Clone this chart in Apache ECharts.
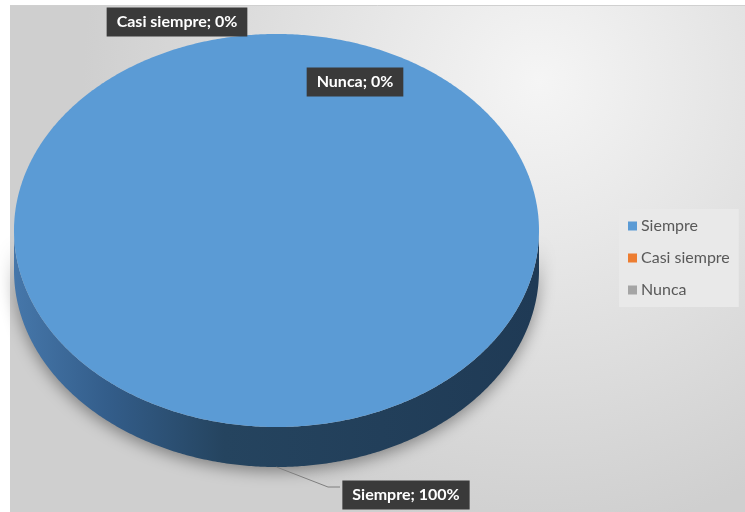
<!DOCTYPE html>
<html>
<head>
<meta charset="utf-8">
<style>
  html, body { margin: 0; padding: 0; background: #ffffff; }
  #chart { width: 745px; height: 512px; }
</style>
<script src="https://cdn.jsdelivr.net/npm/echarts@6/dist/echarts.min.js"></script>
</head>
<body>
<div id="chart"></div>
<script>
// ---- data ----
const categories = ['Siempre', 'Casi siempre', 'Nunca'];
const values = [100, 0, 0];          // percent
const colors = ['#5B9BD5', '#ED7D31', '#A5A5A5'];

// ---- layout (not data) ----
const PIE = { cx: 276.5, cy: 230.5, rx: 262.5, ry: 196.5, depth: 40 };
const LABEL_POS = [[406, 495], [177, 22], [355, 82]];
const LEADER_END = [[[328, 487], [340, 487]], null, null];

const total = values.reduce((a, b) => a + b, 0);
const starts = [];
{ let acc = 0; values.forEach(v => { starts.push(acc); acc += v; }); }

function ellPt(t, dy) {
  return [PIE.cx + PIE.rx * Math.cos(t), PIE.cy + PIE.ry * Math.sin(t) + (dy || 0)];
}
function arcPts(t0, t1, dy) {
  const n = Math.max(2, Math.ceil(Math.abs(t1 - t0) / (Math.PI / 360)));
  const pts = [];
  for (let i = 0; i <= n; i++) pts.push(ellPt(t0 + (t1 - t0) * i / n, dy));
  return pts;
}

function renderItem(params, api) {
  const i = params.dataIndex;
  const v = api.value(0);
  const a0 = -Math.PI / 2 + 2 * Math.PI * starts[i] / total;
  const a1 = a0 + 2 * Math.PI * v / total;
  const children = [];
  if (v > 0) {
    const s0 = Math.max(a0, 0), s1 = Math.min(a1, Math.PI);
    if (s1 > s0) {
      const pts = arcPts(s0, s1, 0).concat(arcPts(s1, s0, PIE.depth));
      children.push({
        type: 'polygon', z2: 1,
        shape: { points: pts },
        style: {
          fill: new echarts.graphic.LinearGradient(PIE.cx - PIE.rx, 0, PIE.cx + PIE.rx, 0, [
            { offset: 0, color: '#4677AA' },
            { offset: 0.18, color: '#335D8A' },
            { offset: 0.4, color: '#25445F' },
            { offset: 1, color: '#1F3A55' }
          ], true),
          shadowBlur: 16, shadowColor: 'rgba(0,0,0,0.4)', shadowOffsetY: 4
        }
      });
    }
    const full = (a1 - a0) >= 2 * Math.PI - 1e-9;
    const topPts = full ? arcPts(a0, a1, 0) : [[PIE.cx, PIE.cy]].concat(arcPts(a0, a1, 0));
    children.push({
      type: 'polygon', z2: 2,
      shape: { points: topPts },
      style: { fill: api.visual('color') }
    });
  }
  const pct = Math.round(v / total * 100);
  const lp = LABEL_POS[i];
  if (LEADER_END[i]) {
    const m = (a0 + a1) / 2;
    const start = ellPt(m, Math.sin(m) > 0 ? PIE.depth : 0);
    children.push({
      type: 'polyline', z2: 8,
      shape: { points: [start].concat(LEADER_END[i]) },
      style: { stroke: '#7f7f7f', lineWidth: 1, fill: null }
    });
  }
  children.push({
    type: 'text', z2: 10,
    style: {
      text: categories[i] + '; ' + pct + '%',
      x: lp[0], y: lp[1],
      align: 'center', verticalAlign: 'middle',
      fill: '#ffffff',
      font: 'bold 16px Lato, "Open Sans", sans-serif',
      backgroundColor: '#3a3a3a',
      padding: [7, 10, 6, 10],
      boxShadowBlur: 5, boxShadowColor: 'rgba(0,0,0,0.4)', boxShadowOffsetX: 1, boxShadowOffsetY: 2
    }
  });
  return { type: 'group', children: children };
}

const chart = echarts.init(document.getElementById('chart'), null, { renderer: 'canvas' });
chart.setOption({
  animation: false,
  backgroundColor: '#ffffff',
  graphic: [
    {
      type: 'rect', z: -10, silent: true,
      shape: { x: 10, y: 5, width: 735, height: 507 },
      style: {
        fill: new echarts.graphic.RadialGradient(0.72, 0.15, 0.9, [
          { offset: 0, color: '#f5f5f5' },
          { offset: 1, color: '#cfcfcf' }
        ])
      }
    },
    {
      type: 'line', z: -9, silent: true,
      shape: { x1: 10, y1: 5.5, x2: 745, y2: 5.5 },
      style: { stroke: '#d0d0d0', lineWidth: 1 }
    }
  ],
  legend: {
    orient: 'vertical',
    left: 619, top: 209,
    padding: [9, 9, 9, 9],
    itemWidth: 9, itemHeight: 9,
    itemGap: 16,
    icon: 'rect',
    backgroundColor: '#e9e9e9',
    textStyle: { color: '#595959', fontSize: 16, lineHeight: 16, fontFamily: 'Lato, sans-serif', padding: [0, 0, 0, -1] },
    data: categories
  },
  series: [
    {
      type: 'custom',
      name: 'pie3d',
      coordinateSystem: 'none',
      colorBy: 'data',
      color: colors,
      silent: true,
      data: values.map((v, i) => ({ name: categories[i], value: [v], itemStyle: { color: colors[i] } })),
      renderItem: renderItem
    },
    {
      type: 'pie',
      name: 'legendProxy',
      silent: true,
      center: [-50, -50], radius: [0, 1],
      label: { show: false }, labelLine: { show: false },
      data: values.map((v, i) => ({ name: categories[i], value: v, itemStyle: { color: colors[i] } }))
    }
  ]
});
</script>
</body>
</html>
